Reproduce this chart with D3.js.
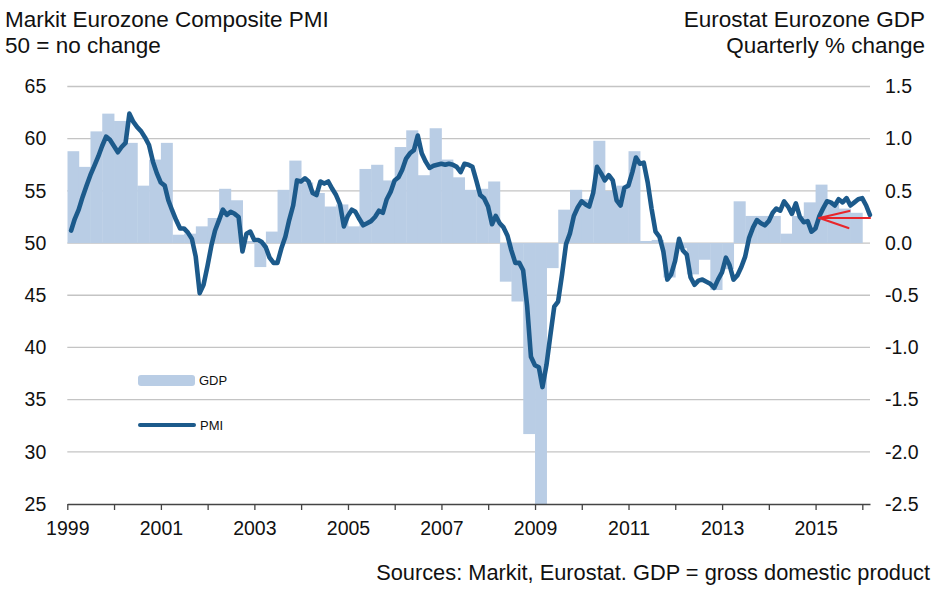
<!DOCTYPE html>
<html lang="en">
<head>
<meta charset="UTF-8">
<title>Eurozone PMI and GDP</title>
<style>
    body {
        margin: 0;
        background: #fff;
        font-family: "Liberation Sans", Arial, sans-serif;
    }
    #chart text {
        fill: #111;
    }
    .grid line {
        stroke: #c4c4c4;
        stroke-width: 1.3px;
    }
    .axis text {
        font-size: 19.5px;
    }
    .header {
        font-size: 22.5px;
    }
    .source {
        font-size: 21.8px;
    }
    .legend text {
        font-size: 13px;
        fill: #333;
    }
</style>
</head>
<body>
<svg id="chart" width="945" height="596"></svg>
<script src="https://d3js.org/d3.v7.min.js"></script>
<script>
    // Markit Eurozone Composite PMI, monthly, Jan 1999 - Feb 2016
    const pmi = [
        51.2, 52.3, 53.2, 54.4, 55.5, 56.5, 57.4, 58.3, 59.3, 60.2, 59.9, 59.3, // 1999
        58.7, 59.2, 59.6, 62.4, 61.6, 61.1, 60.7, 60.1, 59.4, 57.8, 56.7, 55.8, // 2000
        55.5, 54.1, 53.1, 52.2, 51.4, 51.4, 51.0, 50.4, 48.7, 45.2, 46.0, 47.8, // 2001
        49.8, 51.2, 52.2, 53.2, 52.7, 53.0, 52.8, 52.5, 49.2, 50.9, 51.1, 50.3, // 2002
        50.3, 50.1, 49.6, 48.6, 48.1, 48.1, 49.5, 50.6, 52.2, 53.6, 56.0, 55.9, // 2003
        56.2, 55.9, 54.8, 54.6, 55.9, 55.7, 55.9, 55.2, 54.6, 53.7, 51.6, 52.6, // 2004
        53.2, 53.0, 52.3, 51.7, 51.9, 52.1, 52.5, 53.1, 52.9, 54.2, 54.9, 56.0, // 2005
        56.3, 57.0, 58.1, 58.6, 58.9, 60.3, 58.6, 57.8, 57.2, 57.4, 57.5, 57.6, // 2006
        57.5, 57.6, 57.5, 57.3, 56.8, 57.6, 57.5, 57.3, 56.0, 54.6, 54.3, 53.5, // 2007
        51.8, 52.6, 51.9, 51.5, 50.7, 49.3, 48.1, 48.1, 47.4, 44.0, 39.1, 38.3, // 2008
        38.1, 36.2, 38.3, 41.1, 43.9, 44.4, 47.0, 49.9, 50.9, 52.6, 53.4, 54.0, // 2009
        53.7, 53.5, 54.8, 57.3, 56.7, 56.0, 56.5, 56.0, 54.1, 53.6, 55.3, 55.5, // 2010
        56.8, 58.2, 57.6, 57.7, 55.8, 53.3, 51.1, 50.6, 49.2, 46.5, 47.0, 48.3, // 2011
        50.4, 49.3, 48.9, 46.7, 46.0, 46.4, 46.5, 46.3, 46.1, 45.7, 46.5, 47.2, // 2012
        48.6, 47.9, 46.5, 46.9, 47.7, 48.7, 50.5, 51.5, 52.2, 51.9, 51.7, 52.1, // 2013
        52.9, 53.3, 53.1, 54.0, 53.5, 52.8, 53.8, 52.5, 52.0, 52.1, 51.1, 51.4, // 2014
        52.6, 53.3, 54.0, 53.9, 53.6, 54.2, 53.9, 54.3, 53.6, 53.9, 54.2, 54.3, // 2015
        53.6, 52.7                                                              // 2016
    ];

    // Eurostat Eurozone GDP, quarterly % change, 1999 Q1 - 2015 Q4
    const gdp = [
        0.88, 0.73, 1.07, 1.24,   // 1999
        1.17, 0.96, 0.55, 0.80,   // 2000
        0.96, 0.08, 0.09, 0.16,   // 2001
        0.24, 0.52, 0.41, 0.02,   // 2002
        -0.23, 0.11, 0.51, 0.79,  // 2003
        0.58, 0.48, 0.35, 0.37,   // 2004
        0.16, 0.71, 0.75, 0.60,   // 2005
        0.92, 1.08, 0.65, 1.10,   // 2006
        0.80, 0.63, 0.51, 0.52,   // 2007
        0.59, -0.37, -0.56, -1.83, // 2008
        -2.80, -0.24, 0.32, 0.51, // 2009
        0.42, 0.98, 0.50, 0.55,   // 2010
        0.88, 0.02, 0.03, -0.33,  // 2011
        -0.05, -0.30, -0.16, -0.45, // 2012
        -0.25, 0.40, 0.26, 0.26,  // 2013
        0.26, 0.09, 0.26, 0.39,   // 2014
        0.56, 0.38, 0.33, 0.29    // 2015
    ];

    const pmiTicks = [25, 30, 35, 40, 45, 50, 55, 60, 65];
    const gdpTicks = [-2.5, -2.0, -1.5, -1.0, -0.5, 0.0, 0.5, 1.0, 1.5];
    const yearTicks = d3.range(1999, 2017);
    const yearLabels = [1999, 2001, 2003, 2005, 2007, 2009, 2011, 2013, 2015];

    const svg = d3.select("#chart");
    const plotLeft = 67.3, plotRight = 870, plotTop = 86.5, plotBottom = 504;

    const x = d3.scaleTime()
        .domain([new Date(1999, 0, 1), new Date(2016, 2, 1)])
        .range([plotLeft, plotRight]);
    const yL = d3.scaleLinear().domain([25, 65]).range([plotBottom, plotTop]);
    const yR = d3.scaleLinear().domain([-2.5, 1.5]).range([plotBottom, plotTop]);

    svg.append("defs").append("clipPath").attr("id", "plot")
        .append("rect")
        .attr("x", plotLeft).attr("y", plotTop)
        .attr("width", plotRight - plotLeft).attr("height", plotBottom - plotTop);

    // gridlines
    svg.append("g").attr("class", "grid")
        .selectAll("line")
        .data(pmiTicks.filter(d => d > 25))
        .enter().append("line")
        .attr("x1", plotLeft).attr("x2", plotRight)
        .attr("y1", d => yL(d)).attr("y2", d => yL(d));

    // GDP bars
    const quarters = gdp.map((v, i) => ({
        start: new Date(1999, i * 3, 1),
        end: new Date(1999, i * 3 + 3, 1),
        value: v
    }));
    svg.append("g").attr("clip-path", "url(#plot)")
        .selectAll("rect")
        .data(quarters)
        .enter().append("rect")
        .attr("x", d => x(d.start))
        .attr("width", d => x(d.end) - x(d.start) + 0.4)
        .attr("y", d => yR(Math.max(0, d.value)))
        .attr("height", d => Math.abs(yR(d.value) - yR(0)))
        .attr("fill", "#b9cde5");

    // PMI line, points at month end
    const points = pmi.map((v, i) => ({ date: new Date(1999, i + 1, 0), value: v }));
    const line = d3.line()
        .x(d => x(d.date))
        .y(d => yL(d.value));
    svg.append("path")
        .datum(points)
        .attr("d", line)
        .attr("fill", "none")
        .attr("stroke", "#1c5a8b")
        .attr("stroke-width", 4.6)
        .attr("stroke-linejoin", "round")
        .attr("stroke-linecap", "round");

    // x axis
    const xAxis = svg.append("g")
        .attr("class", "axis")
        .attr("transform", `translate(0,${plotBottom})`)
        .call(d3.axisBottom(x)
            .tickValues(yearTicks.map(y => new Date(y, 0, 1)))
            .tickSize(6)
            .tickSizeOuter(0)
            .tickPadding(11)
            .tickFormat(d => yearLabels.includes(d.getFullYear()) ? d.getFullYear() : ""));
    xAxis.select(".domain").attr("stroke", "#444").attr("stroke-width", 1.3);
    xAxis.selectAll(".tick line").attr("stroke", "#444").attr("stroke-width", 1.3);

    // left axis
    const lAxis = svg.append("g")
        .attr("class", "axis")
        .attr("transform", `translate(${plotLeft},0)`)
        .call(d3.axisLeft(yL).tickValues(pmiTicks).tickSize(0).tickPadding(21));
    lAxis.select(".domain").remove();

    // right axis
    const rAxis = svg.append("g")
        .attr("class", "axis")
        .attr("transform", `translate(${plotRight},0)`)
        .call(d3.axisRight(yR).tickValues(gdpTicks).tickSize(0).tickPadding(15)
            .tickFormat(d => d.toFixed(1)));
    rAxis.select(".domain").remove();
    svg.selectAll(".axis text").attr("font-family", "Liberation Sans, Arial, sans-serif").attr("fill", "#111");

    // red arrow: latest PMI back at early-2015 level
    const tipX = x(new Date(2015, 1, 0)), tipY = yL(52.4);
    const arrow = svg.append("g")
        .attr("stroke", "#e8262b")
        .attr("stroke-width", 2.2)
        .attr("stroke-linecap", "round");
    arrow.append("line")
        .attr("x1", plotRight).attr("y1", tipY)
        .attr("x2", tipX).attr("y2", tipY);
    arrow.append("line")
        .attr("x1", tipX).attr("y1", tipY)
        .attr("x2", tipX + 30).attr("y2", tipY - 7);
    arrow.append("line")
        .attr("x1", tipX).attr("y1", tipY)
        .attr("x2", tipX + 29).attr("y2", tipY + 10);

    // legend
    const legend = svg.append("g").attr("class", "legend");
    legend.append("rect")
        .attr("x", 138).attr("y", 375)
        .attr("width", 57).attr("height", 11)
        .attr("rx", 3)
        .attr("fill", "#b9cde5");
    legend.append("text").attr("x", 199).attr("y", 385).text("GDP");
    legend.append("line")
        .attr("x1", 140).attr("x2", 194)
        .attr("y1", 425).attr("y2", 425)
        .attr("stroke", "#1c5a8b")
        .attr("stroke-width", 4)
        .attr("stroke-linecap", "round");
    legend.append("text").attr("x", 200).attr("y", 430).text("PMI");

    // headers and source
    svg.append("text").attr("class", "header").attr("x", 5).attr("y", 27)
        .text("Markit Eurozone Composite PMI");
    svg.append("text").attr("class", "header").attr("x", 5).attr("y", 53)
        .text("50 = no change");
    svg.append("text").attr("class", "header").attr("x", 925).attr("y", 27)
        .attr("text-anchor", "end").text("Eurostat Eurozone GDP");
    svg.append("text").attr("class", "header").attr("x", 925).attr("y", 53)
        .attr("text-anchor", "end").text("Quarterly % change");
    svg.append("text").attr("class", "source").attr("x", 930).attr("y", 580)
        .attr("text-anchor", "end")
        .text("Sources: Markit, Eurostat. GDP = gross domestic product");
</script>
</body>
</html>
